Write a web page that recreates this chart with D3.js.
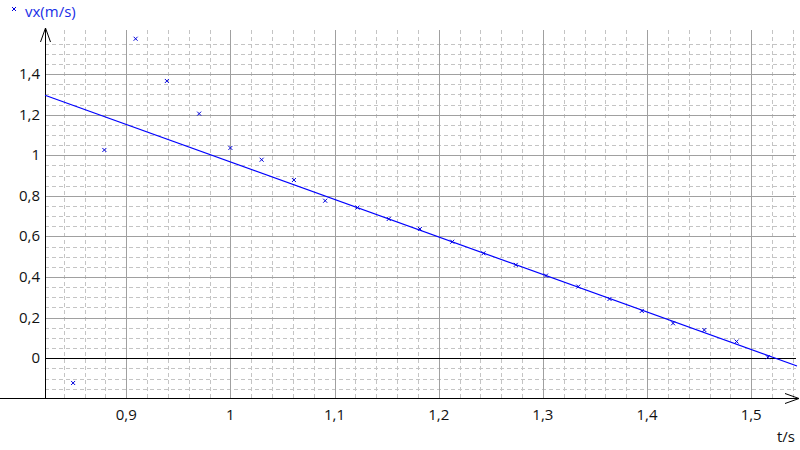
<!DOCTYPE html>
<html>
<head>
<meta charset="utf-8">
<script src="https://cdn.jsdelivr.net/npm/d3@7"></script>
<style>
  body { margin: 0; background: #fff; }
  svg { display: block; font-family: "Open Sans", "Noto Sans", sans-serif; }
</style>
</head>
<body>
<div id="chart"></div>
<script>
// measured points vx(t)
const times = [0.849, 0.879, 0.909, 0.939, 0.970, 1.000, 1.030, 1.061, 1.091, 1.122,
               1.152, 1.182, 1.213, 1.243, 1.274, 1.303, 1.334, 1.364, 1.395, 1.425,
               1.455, 1.486, 1.516];
const speeds = [-0.122, 1.026, 1.574, 1.366, 1.205, 1.036, 0.978, 0.878, 0.776, 0.742,
                0.686, 0.637, 0.574, 0.517, 0.460, 0.407, 0.353, 0.292, 0.233, 0.172,
                0.139, 0.082, 0.005];
// fitted line vx = a + b t
const fit = { a: 2.815, b: -1.848 };
const xTicks = [0.9, 1.0, 1.1, 1.2, 1.3, 1.4, 1.5];
const yTicks = [0, 0.2, 0.4, 0.6, 0.8, 1.0, 1.2, 1.4];

const W = 800, H = 450;
const x = d3.scaleLinear().domain([0.822, 1.544]).range([45, 797]);
const y = d3.scaleLinear().domain([-0.196, 1.627]).range([398, 28]);
const fmt = v => String(+v.toFixed(1)).replace(".", ",");

const svg = d3.select("#chart").append("svg")
    .attr("width", W).attr("height", H);

// minor grid (dashed)
const minorX = d3.range(0.84, 1.545, 0.02).filter(v => Math.abs(v * 10 - Math.round(v * 10)) > 1e-6);
const minorY = d3.range(-0.15, 1.56, 0.05).filter(v => Math.abs(v * 5 - Math.round(v * 5)) > 1e-6);
const grid = svg.append("g");
grid.selectAll(".mx").data(minorX).join("line")
    .attr("x1", d => Math.round(x(d)) + 0.5).attr("x2", d => Math.round(x(d)) + 0.5)
    .attr("y1", 30).attr("y2", y.range()[0])
    .attr("stroke", "#c4c4c4").attr("stroke-dasharray", "4,3");
grid.selectAll(".my").data(minorY).join("line")
    .attr("x1", x.range()[0]).attr("x2", 796)
    .attr("y1", d => Math.round(y(d)) + 0.5).attr("y2", d => Math.round(y(d)) + 0.5)
    .attr("stroke", "#c4c4c4").attr("stroke-dasharray", "4,3");

// major grid
grid.selectAll(".Mx").data(xTicks).join("line")
    .attr("x1", d => Math.round(x(d)) + 0.5).attr("x2", d => Math.round(x(d)) + 0.5)
    .attr("y1", 30).attr("y2", y.range()[0])
    .attr("stroke", "#a0a0a0");
grid.selectAll(".My").data(yTicks.filter(v => v !== 0)).join("line")
    .attr("x1", x.range()[0]).attr("x2", 796)
    .attr("y1", d => Math.round(y(d)) + 0.5).attr("y2", d => Math.round(y(d)) + 0.5)
    .attr("stroke", "#a0a0a0");
// zero line
grid.append("line")
    .attr("x1", x.range()[0]).attr("x2", 796)
    .attr("y1", Math.round(y(0)) + 0.5).attr("y2", Math.round(y(0)) + 0.5)
    .attr("stroke", "#000");

// axes with open arrows
const ax = svg.append("g").attr("stroke", "#000").attr("fill", "none");
const x0 = Math.round(x.range()[0]) + 0.5, yb = Math.round(y.range()[0]) + 0.5;
ax.append("line").attr("x1", 0).attr("x2", 799).attr("y1", yb).attr("y2", yb);
ax.append("line").attr("x1", x0).attr("x2", x0).attr("y1", 28).attr("y2", yb);
ax.append("path").attr("d", `M${x0 - 5},42 L${x0},28 L${x0 + 5},42`);
ax.append("path").attr("d", `M785,${yb - 5} L799,${yb} L785,${yb + 5}`);

// tick labels
svg.append("g").selectAll("text").data(xTicks).join("text")
    .attr("x", d => x(d)).attr("y", 420)
    .attr("text-anchor", "middle").attr("font-size", 15).attr("fill", "#111")
    .text(fmt);
svg.append("g").selectAll("text").data(yTicks).join("text")
    .attr("x", 40).attr("y", d => y(d) + 5)
    .attr("text-anchor", "end").attr("font-size", 15).attr("fill", "#111")
    .text(fmt);

// axis titles
svg.append("text").attr("x", 786).attr("y", 442).attr("text-anchor", "middle")
    .attr("font-size", 15).attr("fill", "#111").text("t/s");
svg.append("text").attr("x", 25).attr("y", 17)
    .attr("font-size", 15).attr("fill", "#1a2ee6").text("vx(m/s)");

// fitted line
const tLine = x.domain();
svg.append("line")
    .attr("x1", x(tLine[0])).attr("y1", y(fit.a + fit.b * tLine[0]))
    .attr("x2", x(tLine[1])).attr("y2", y(fit.a + fit.b * tLine[1]))
    .attr("stroke", "#0000ff").attr("stroke-width", 1.2);

// markers
const pts = times.map((t, i) => [t, speeds[i]]);
const cross = (cx, cy, r) => `M${cx - r},${cy - r}L${cx + r},${cy + r}M${cx - r},${cy + r}L${cx + r},${cy - r}`;
svg.append("g").selectAll("path").data(pts).join("path")
    .attr("d", d => cross(x(d[0]), y(d[1]), 2))
    .attr("stroke", "#0000dd").attr("fill", "none");
// legend marker
svg.append("path").attr("d", cross(14, 9, 2)).attr("stroke", "#0000dd").attr("fill", "none");
</script>
</body>
</html>
